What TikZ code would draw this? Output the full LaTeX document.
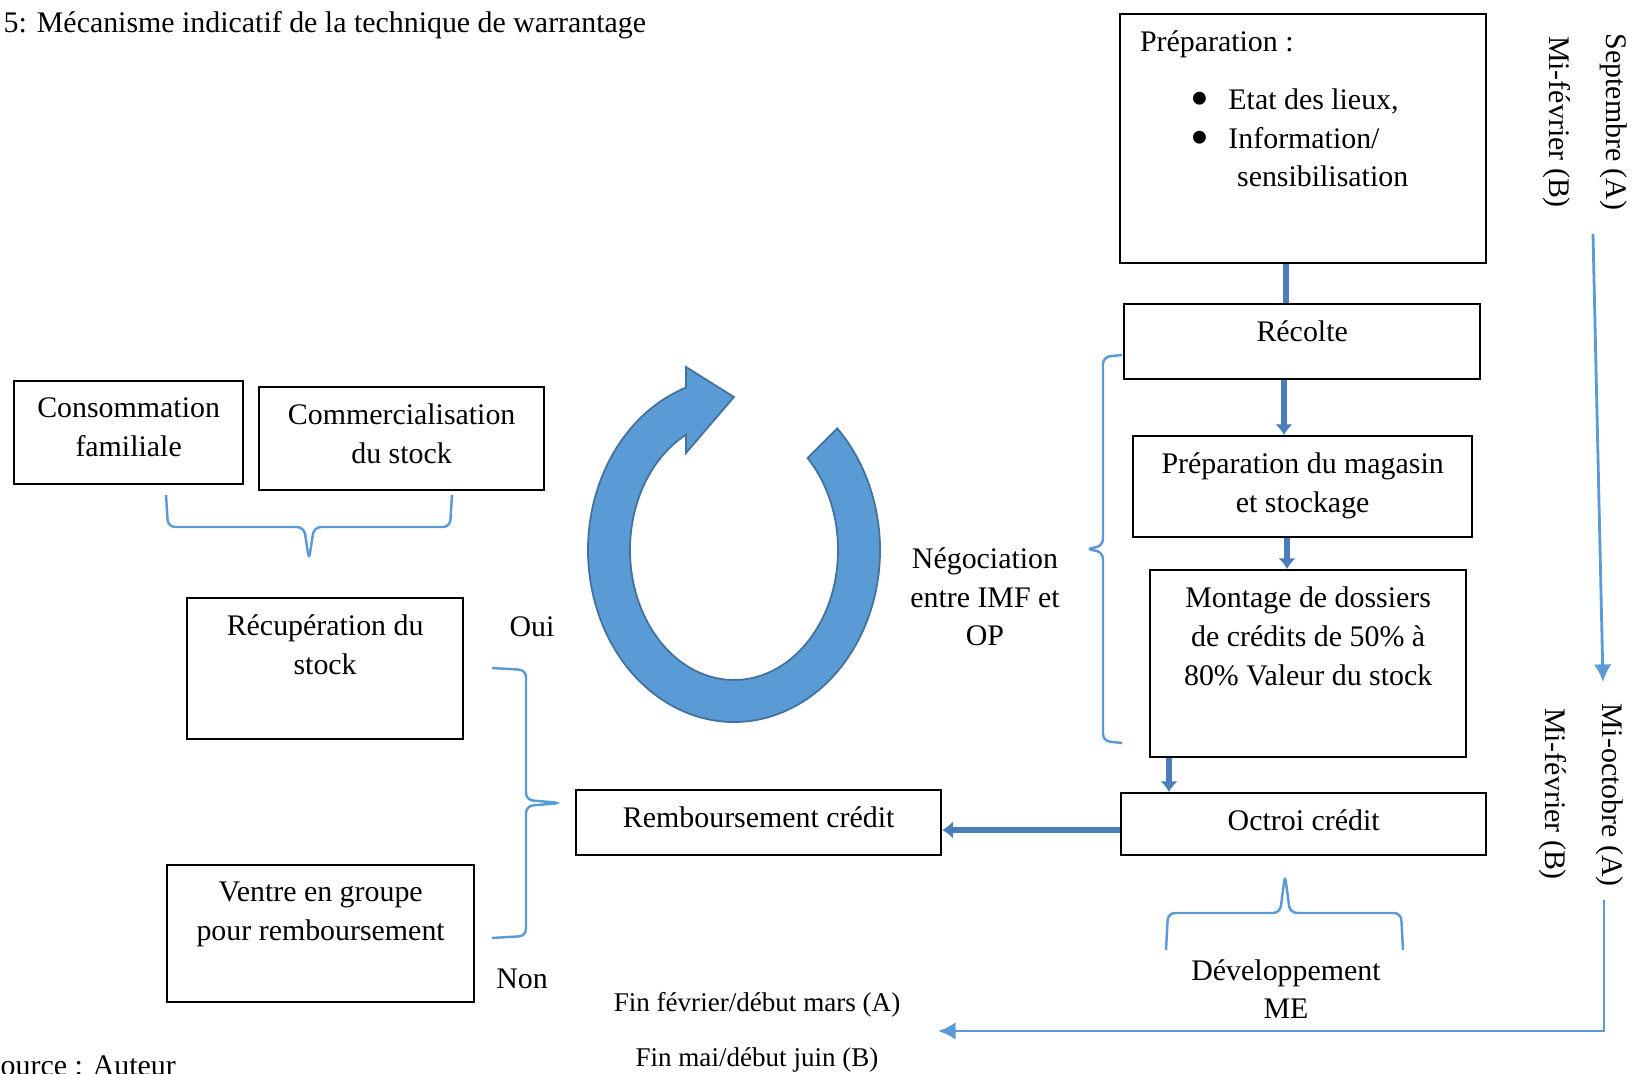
\documentclass[tikz,border=0pt]{standalone}
\usepackage{fontspec}
\setmainfont{Liberation Serif}
\usepackage{graphicx}
\usepackage{tikz}
\usetikzlibrary{arrows.meta}

\definecolor{ringblue}{HTML}{5B9BD5}
\definecolor{ringedge}{HTML}{41719C}
\definecolor{flowblue}{HTML}{4A7EBB}
\definecolor{lineblue}{HTML}{5B9BD5}

% box text set from the top of the box
\newcommand{\boxtext}[3]{\parbox[c][#2][t]{#1}{\centering\vspace*{0.17cm}#3}}
\newcommand{\bigbullet}{\raisebox{-2pt}{\scalebox{1.8}{\textbullet}}}

\begin{document}
\begin{tikzpicture}[
  x=0.01cm, y=-0.01cm,
  every node/.style={font=\fontsize{8.5}{11}\selectfont},
  box/.style={draw, line width=0.6pt, inner sep=0pt, anchor=north west},
  flow/.style={draw=flowblue, line width=1.7pt, -{Latex[length=3pt,width=5pt]}},
  brace/.style={draw=lineblue, line width=0.7pt, rounded corners=2pt},
  month/.style={rotate=-90, inner sep=0pt},
  period/.style={draw=lineblue, line width=0.8pt, -{Latex[length=5pt,width=5pt]}}
]
\useasboundingbox (0,0) rectangle (1633,1074);

% boxes
\node[box] (prep) at (1119,13) {\parbox[c][2.49cm][t]{3.66cm}{\raggedright\vspace*{0.17cm}%
  \hspace*{0.2cm}Préparation :\\[0.19cm]
  \hspace*{0.70cm}\bigbullet\hspace{0.195cm}Etat des lieux,\\
  \hspace*{0.70cm}\bigbullet\hspace{0.195cm}Information/\\
  \hspace*{1.17cm}sensibilisation}};
\node[box] (recolte) at (1123,303) {\boxtext{3.56cm}{0.75cm}{Récolte}};
\node[box] (magasin) at (1132,435) {\boxtext{3.39cm}{1.01cm}{Préparation du magasin\\et stockage}};
\node[box] (montage) at (1149,569) {\boxtext{3.16cm}{1.87cm}{Montage de dossiers\\de crédits de 50\% à\\80\% Valeur du stock}};
\node[box] (octroi) at (1120,792) {\boxtext{3.65cm}{0.62cm}{Octroi crédit}};
\node[box] (rembours) at (575,789) {\boxtext{3.65cm}{0.65cm}{Remboursement crédit}};
\node[box] (conso) at (13,380) {\boxtext{2.29cm}{1.03cm}{Consommation\\familiale}};
\node[box] (commerc) at (258,386) {\boxtext{2.85cm}{1.03cm}{Commercialisation\\du stock}};
\node[box] (recup) at (186,597) {\boxtext{2.76cm}{1.41cm}{Récupération du\\stock}};
\node[box] (ventre) at (166,864) {\boxtext{3.07cm}{1.37cm}{Ventre en groupe\\pour remboursement}};

% flow
\draw[flow, -] (1286,0 |- prep.south) -- (1286,0 |- recolte.north);
\draw[flow] (1284,0 |- recolte.south) -- (1284,0 |- magasin.north);
\draw[flow] (1287,0 |- magasin.south) -- (1287,0 |- montage.north);
\draw[flow] (1169,0 |- montage.south) -- (1169,0 |- octroi.north);
\draw[flow] (octroi.west |- 0,830) -- (rembours.east |- 0,830);

% braces
\draw[brace] (166,495) -- (168,527) -- (304,527) -- (309,560) -- (314,527) -- (450,527) -- (452,495);
\draw[brace] (492,668) -- (526,670) -- (526,800) -- (561,803) -- (526,806) -- (526,936) -- (492,938);
\draw[brace] (1122,355) -- (1103,357) -- (1103,546) -- (1086,549) -- (1103,552) -- (1103,741) -- (1122,743);
\draw[brace] (1166,950) -- (1168,913) -- (1280,913) -- (1285,875) -- (1290,913) -- (1401,913) -- (1403,950);

% cycle arrow
\begin{scope}[shift={(734,550)}, yscale=-1]
\fill[ringblue, draw=ringedge, line width=0.5pt]
  (45:146 and 172) -- (45:104 and 130)
  arc[start angle=45, end angle=-242.5, x radius=104, y radius=130]
  -- (-48,97) -- (0,153) -- (-48,183) -- (-48,162.4)
  arc[start angle=-250.8, end angle=45, x radius=146, y radius=172] -- cycle;
\end{scope}

% labels
\node[anchor=west, inner sep=0pt] (title) at (3,25) {5: Mécanisme indicatif de la technique de warrantage};
\node[anchor=west, inner sep=0pt] (source) at (0,1066) {ource : Auteur};
\node (oui) at (532,627) {Oui};
\node (non) at (522,979) {Non};
\node[align=center] (nego) at (985,597) {Négociation\\entre IMF et\\OP};
\node[align=center] (dev) at (1286,989) {Développement\\ME};
\node[font=\fontsize{7.7}{10}\selectfont] (finA) at (757,1005) {Fin février/début mars (A)};
\node[font=\fontsize{7.7}{10}\selectfont] (finB) at (757,1060) {Fin mai/début juin (B)};
\node[month] (sepA) at (1614,122) {Septembre (A)};
\node[month] (fevB) at (1557,122) {Mi-février (B)};
\node[month] (octA) at (1610,795) {Mi-octobre (A)};
\node[month] (fevB2) at (1553,794) {Mi-février (B)};

% periods
\coordinate (sepEnd) at (1593,234);
\coordinate (octTop) at (1603,682);
\coordinate (octEnd) at (1604,900);
\coordinate (finTip) at (938,1031);
\draw[period] (sepEnd) -- (octTop);
\draw[period] (octEnd) |- (finTip);
\end{tikzpicture}
\end{document}
